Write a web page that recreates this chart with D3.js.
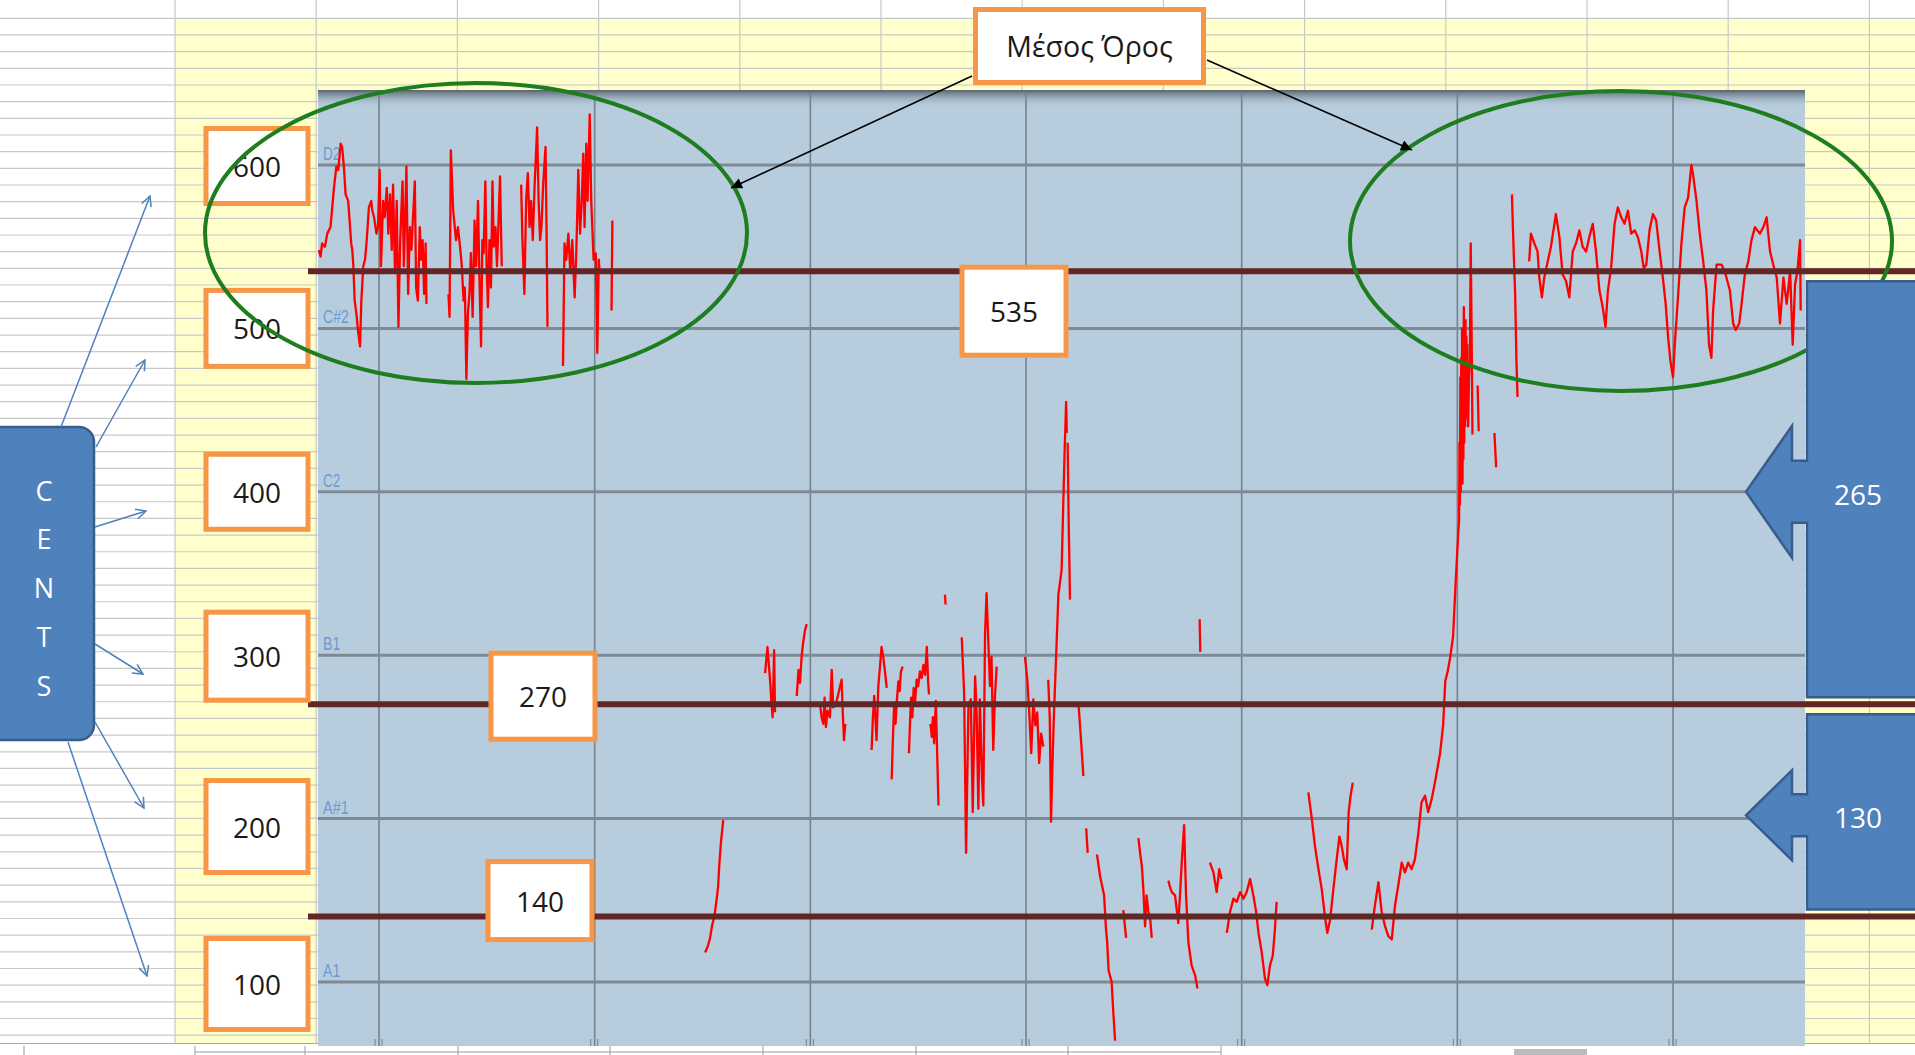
<!DOCTYPE html>
<html><head><meta charset="utf-8">
<script src="https://cdn.jsdelivr.net/npm/d3@7/dist/d3.min.js"></script>
<style>html,body{margin:0;padding:0;background:#fff;overflow:hidden}</style>
</head><body><svg id="c" width="1915" height="1055"></svg>
<script>
// ---------------- DATA ----------------
const noteNames = ["A1","A#1","B1","C2","C#2","D2"];
const noteCents = [100,200,300,400,500,600];
const timeTicks = [1,2,3,4,5,6,7];
const meanValues = [535,270,140];
const meanDiffs = [265,130];
const centsLabels = [100,200,300,400,500,600];
const axisTitle = "CENTS";
const meanTitle = "Μέσος Όρος";

// pitch contour segments: [time, cents]
const seg01 = [[0.721,548],[0.729,544],[0.736,552],[0.749,550],[0.760,558],[0.775,562],[0.791,586],[0.802,599],[0.811,597],[0.822,613],[0.829,611],[0.837,599],[0.845,582],[0.857,578],[0.871,552],[0.876,548],[0.881,538],[0.887,517],[0.895,509],[0.904,497],[0.912,489],[0.918,517],[0.927,538],[0.935,542],[0.943,554],[0.953,574],[0.964,578],[0.969,572],[0.977,568],[0.988,558],[0.995,562],[1.003,597],[1.009,538],[1.019,578],[1.026,568],[1.036,586],[1.043,558],[1.051,582],[1.059,548],[1.065,588],[1.074,534],[1.082,578],[1.090,501],[1.098,554],[1.109,590],[1.115,538],[1.127,599],[1.135,521],[1.143,562],[1.150,548],[1.166,590],[1.172,525],[1.180,517],[1.189,562],[1.195,542],[1.202,554],[1.209,521],[1.216,552],[1.220,515]];
const seg02 = [[1.322,521],[1.327,507],[1.333,609],[1.344,572],[1.357,554],[1.366,562],[1.377,548],[1.384,538],[1.392,517],[1.398,525],[1.405,469],[1.412,509],[1.419,521],[1.426,546],[1.434,507],[1.443,566],[1.450,538],[1.459,578],[1.465,534],[1.473,489],[1.479,554],[1.485,546],[1.493,590],[1.499,538],[1.505,513],[1.512,554],[1.519,525],[1.526,590],[1.532,550],[1.540,562],[1.547,538],[1.561,593],[1.569,538]];
const seg03 = [[1.659,588],[1.665,554],[1.674,521],[1.682,578],[1.690,595],[1.698,562],[1.705,578],[1.713,554],[1.721,586],[1.733,623],[1.740,578],[1.747,554],[1.753,562],[1.761,588],[1.772,611],[1.777,558],[1.781,501]];
const seg04 = [[1.853,477],[1.860,552],[1.868,542],[1.878,558],[1.887,534],[1.896,554],[1.907,519],[1.915,548],[1.924,597],[1.932,558],[1.940,578],[1.947,607],[1.953,562],[1.961,613],[1.967,578],[1.977,631],[1.984,578],[1.995,542],[2.005,546],[2.012,485],[2.019,542],[2.023,534]];
const seg05 = [[2.078,511],[2.082,566]];
const seg06 = [[2.512,118],[2.525,122],[2.535,127],[2.545,135],[2.555,140],[2.565,150],[2.572,158],[2.578,172],[2.585,185],[2.596,199]];
const seg07 = [[2.790,289],[2.801,305],[2.807,295],[2.813,285],[2.819,272],[2.825,262],[2.832,303],[2.836,265]];
const seg08 = [[2.937,275],[2.945,291],[2.952,283],[2.960,300],[2.968,309],[2.975,315],[2.983,319]];
const seg09 = [[3.045,270],[3.052,262],[3.060,258],[3.066,274],[3.072,256],[3.080,266],[3.091,262],[3.099,291],[3.106,268],[3.122,272],[3.145,285],[3.150,266],[3.156,248],[3.162,258]];
const seg10 = [[3.284,242],[3.290,262],[3.296,275],[3.300,265],[3.307,248],[3.315,281],[3.323,293],[3.330,305],[3.338,299],[3.346,290],[3.354,280]];
const seg11 = [[3.377,224],[3.383,250],[3.388,268],[3.395,258],[3.401,272],[3.408,284],[3.414,278],[3.420,290],[3.428,293]];
const seg12 = [[3.457,240],[3.462,258],[3.467,274],[3.473,262],[3.479,280],[3.486,272],[3.493,285],[3.500,281],[3.508,290],[3.516,286],[3.524,294],[3.532,288],[3.540,305],[3.546,284],[3.550,276]];
const seg13 = [[3.557,258],[3.563,250],[3.568,262],[3.574,246],[3.582,272],[3.588,240],[3.594,208]];
const seg14 = [[3.624,337],[3.627,331]];
const seg15 = [[3.702,311],[3.713,277],[3.722,179],[3.733,269],[3.744,273],[3.753,204],[3.764,287],[3.771,265],[3.779,206],[3.786,273],[3.796,224],[3.802,208],[3.810,313],[3.817,338],[3.825,309],[3.833,281],[3.840,299],[3.848,242],[3.856,275],[3.864,293]];
const seg16 = [[3.995,299],[4.006,285],[4.015,265],[4.024,240],[4.034,273],[4.043,257],[4.052,265],[4.061,234],[4.070,252],[4.080,244]];
const seg17 = [[4.103,285],[4.110,262],[4.116,198],[4.122,230],[4.128,258],[4.140,301],[4.150,337],[4.165,352],[4.178,420],[4.186,455],[4.189,436]];
const seg18 = [[4.193,430],[4.198,380],[4.204,334]];
const seg19 = [[4.243,271],[4.255,248],[4.266,226]];
const seg20 = [[4.279,194],[4.286,179]];
const seg21 = [[4.329,178],[4.343,165],[4.362,153],[4.371,132],[4.376,125],[4.383,107],[4.397,100],[4.404,83],[4.413,64]];
const seg22 = [[4.451,144],[4.458,135],[4.464,127]];
const seg23 = [[4.521,188],[4.530,178],[4.537,171],[4.544,157],[4.552,134],[4.559,153],[4.567,143],[4.575,140],[4.583,127]];
const seg24 = [[4.660,162],[4.668,158],[4.676,155],[4.691,153],[4.706,136],[4.714,153],[4.722,173],[4.733,196],[4.742,153],[4.753,124],[4.768,110],[4.784,104],[4.795,96]];
const seg25 = [[4.805,322],[4.808,302]];
const seg26 = [[4.853,173],[4.861,170],[4.869,167],[4.884,155],[4.896,169],[4.907,163]];
const seg27 = [[4.931,130],[4.946,143],[4.962,151],[4.977,149],[4.993,155],[5.008,151],[5.023,155],[5.039,163],[5.054,153],[5.067,143],[5.078,130],[5.093,118],[5.108,102],[5.119,98],[5.131,110],[5.144,116],[5.154,132],[5.162,149]];
const seg28 = [[5.309,216],[5.325,200],[5.340,183],[5.356,169],[5.371,157],[5.386,140],[5.397,130],[5.410,138],[5.422,153],[5.437,171],[5.453,189],[5.464,183],[5.474,175],[5.487,169],[5.496,204],[5.505,214],[5.515,222]];
const seg29 = [[5.603,132],[5.618,147],[5.634,161],[5.649,143],[5.665,134],[5.680,128],[5.696,126],[5.711,147],[5.726,159],[5.742,173],[5.757,167],[5.772,173],[5.788,169],[5.803,175],[5.819,191],[5.834,210],[5.850,214],[5.865,204],[5.881,212],[5.896,222],[5.920,240],[5.934,257],[5.944,284],[5.955,290],[5.966,298],[5.980,311],[5.992,344],[6.005,377],[6.008,382],[6.010,430],[6.012,392],[6.014,470],[6.016,400],[6.018,482],[6.020,410],[6.022,500],[6.024,405],[6.026,490],[6.028,420],[6.030,513],[6.032,430],[6.034,500],[6.036,440],[6.038,505],[6.040,445],[6.042,495],[6.044,455],[6.046,490],[6.048,450],[6.050,440],[6.054,470],[6.058,480],[6.062,552],[6.066,500],[6.070,435]];
const seg30 = [[6.094,465],[6.099,437]];
const seg31 = [[6.172,436],[6.180,415]];
const seg32 = [[6.253,582],[6.258,560],[6.263,540],[6.268,521],[6.274,480],[6.279,458]];
const seg33 = [[6.333,541],[6.341,558],[6.357,552],[6.372,547],[6.380,531],[6.392,519],[6.403,531],[6.419,541],[6.434,550],[6.457,570],[6.473,556],[6.488,533],[6.504,529],[6.519,519],[6.535,547],[6.550,552],[6.566,560],[6.581,550],[6.597,547],[6.612,556],[6.628,564],[6.643,547],[6.659,523],[6.674,513],[6.687,501],[6.698,523],[6.713,537],[6.729,564],[6.744,574],[6.760,568],[6.775,564],[6.791,572],[6.806,558],[6.822,560],[6.837,556],[6.853,547],[6.864,537],[6.876,539],[6.891,560],[6.907,570],[6.922,566],[6.938,547],[6.953,531],[6.966,515],[6.977,495],[6.988,480],[7.000,470],[7.008,490],[7.023,519],[7.039,552],[7.054,574],[7.070,580],[7.085,600],[7.093,594],[7.109,578],[7.124,558],[7.140,541],[7.155,523],[7.167,490],[7.178,482],[7.186,511],[7.202,539],[7.225,539],[7.240,535],[7.264,523],[7.279,503],[7.291,499],[7.307,503],[7.318,515],[7.333,533],[7.349,541],[7.364,554],[7.380,562],[7.403,558],[7.419,562],[7.434,568],[7.450,547],[7.465,539],[7.481,531],[7.496,503],[7.512,531],[7.527,515],[7.543,535],[7.555,490],[7.566,527],[7.577,535],[7.589,554],[7.592,511]];
const pitchSegments = [seg01,seg02,seg03,seg04,seg05,seg06,seg07,seg08,seg09,seg10,seg11,seg12,seg13,seg14,seg15,seg16,seg17,seg18,seg19,seg20,seg21,seg22,seg23,seg24,seg25,seg26,seg27,seg28,seg29,seg30,seg31,seg32,seg33];

// ---------------- LAYOUT ----------------
const W = 1915, H = 1055;
const plot = {x0:318, x1:1805, y0:90, y1:1046};
const svg = d3.select("#c");
const x = d3.scaleLinear().domain([0.717, 7.612]).range([plot.x0, plot.x1]);
const y = d3.scaleLinear().domain([60.8, 645.9]).range([plot.y1, plot.y0]);
const FONT = "'Open Sans', 'Noto Sans', sans-serif";
const ORANGE = "#F79646", BLUE = "#4F81BD", BLUE_D = "#385D8A";

const defs = svg.append("defs");
const g1 = defs.append("linearGradient").attr("id","topShade").attr("x1",0).attr("y1",0).attr("x2",0).attr("y2",1);
g1.append("stop").attr("offset","0%").attr("stop-color","#56626c");
g1.append("stop").attr("offset","100%").attr("stop-color","#b7cddd").attr("stop-opacity",0);
defs.append("clipPath").attr("id","plotClip").append("rect")
  .attr("x",plot.x0).attr("y",plot.y0).attr("width",plot.x1-plot.x0).attr("height",plot.y1-plot.y0);
defs.append("marker").attr("id","arrBlack").attr("viewBox","0 0 10 10").attr("refX",10).attr("refY",5)
  .attr("markerWidth",15).attr("markerHeight",11).attr("markerUnits","userSpaceOnUse").attr("orient","auto")
  .append("path").attr("d","M0,0 L10,5 L0,10 Z").attr("fill","#000");
defs.append("marker").attr("id","arrBlue").attr("viewBox","0 0 12 12").attr("refX",11).attr("refY",6)
  .attr("markerWidth",12).attr("markerHeight",12).attr("markerUnits","userSpaceOnUse").attr("orient","auto")
  .append("path").attr("d","M1,1 L11,6 L1,11").attr("fill","none").attr("stroke",BLUE).attr("stroke-width",1.5);

// ---- spreadsheet background ----
svg.append("rect").attr("width",W).attr("height",H).attr("fill","#fff");
svg.append("rect").attr("x",175).attr("y",18).attr("width",W-175).attr("height",1025).attr("fill","#FFFFCC");
const rowYs = d3.range(18.3, 1043, 16.67);
svg.append("g").selectAll("line").data(rowYs).join("line")
  .attr("x1",0).attr("x2",W).attr("y1",d=>d).attr("y2",d=>d)
  .attr("stroke","#c8c8c8").attr("stroke-width",1.2);
const colXs = d3.range(175, W, 141.2);
svg.append("g").selectAll("line").data(colXs).join("line")
  .attr("x1",d=>d).attr("x2",d=>d).attr("y1",0).attr("y2",1043)
  .attr("stroke","#c8c8c8").attr("stroke-width",1.2);
// sheet tab bar
svg.append("rect").attr("x",0).attr("y",1043).attr("width",W).attr("height",12).attr("fill","#fff");
svg.append("line").attr("x1",0).attr("x2",W).attr("y1",1043.5).attr("y2",1043.5).attr("stroke","#a8a8a8");
svg.append("line").attr("x1",195).attr("x2",1221).attr("y1",1052).attr("y2",1052).attr("stroke","#999");
svg.append("g").selectAll("line").data([24,195,305,458,610,763,916,1068,1221]).join("line")
  .attr("x1",d=>d).attr("x2",d=>d).attr("y1",1046).attr("y2",1055).attr("stroke","#999");
svg.append("rect").attr("x",1514).attr("y",1049).attr("width",73).attr("height",6).attr("fill","#bbb");

// ---- plot area ----
svg.append("rect").attr("x",plot.x0).attr("y",plot.y0).attr("width",plot.x1-plot.x0).attr("height",plot.y1-plot.y0)
  .attr("fill","#B7CDDD");
svg.append("rect").attr("x",plot.x0).attr("y",plot.y0).attr("width",plot.x1-plot.x0).attr("height",18)
  .attr("fill","url(#topShade)");
svg.append("g").selectAll("line").data(timeTicks).join("line")
  .attr("x1",d=>x(d)).attr("x2",d=>x(d)).attr("y1",plot.y0+4).attr("y2",plot.y1)
  .attr("stroke","#76828d").attr("stroke-width",1.6);
svg.append("g").selectAll("path").data(timeTicks).join("path")
  .attr("d",d=>`M${x(d)-4},${plot.y1-7}v7M${x(d)+3},${plot.y1-7}v7`)
  .attr("stroke","#76828d").attr("stroke-width",1);
svg.append("g").selectAll("line").data(noteCents).join("line")
  .attr("x1",plot.x0).attr("x2",plot.x1).attr("y1",d=>y(d)).attr("y2",d=>y(d))
  .attr("stroke","#7f8a95").attr("stroke-width",3);
svg.append("g").selectAll("text").data(noteNames).join("text")
  .attr("x",plot.x0+5).attr("y",(d,i)=>y(noteCents[i])-5)
  .attr("font-family","'Liberation Sans', sans-serif").attr("font-size",19)
  .attr("textLength",d=>d.length*8.6).attr("lengthAdjust","spacingAndGlyphs")
  .attr("fill","#5b8fd0").attr("fill-opacity",0.85).text(d=>d);

// ---- pitch contour ----
const line = d3.line().x(d=>x(d[0])).y(d=>y(d[1]));
svg.append("g").attr("clip-path","url(#plotClip)").selectAll("path").data(pitchSegments).join("path")
  .attr("d",line).attr("fill","none").attr("stroke","#ff0000").attr("stroke-width",2.3)
  .attr("stroke-linejoin","round");

// ---- mean lines ----
svg.append("g").selectAll("line").data(meanValues).join("line")
  .attr("x1",plot.x0-10).attr("x2",W).attr("y1",d=>y(d)).attr("y2",d=>y(d))
  .attr("stroke","#642525").attr("stroke-width",6);

// ---- labelled boxes ----
function box(cx, cy, w, h, label, size){
  const g = svg.append("g");
  g.append("rect").attr("x",cx-w/2).attr("y",cy-h/2).attr("width",w).attr("height",h)
    .attr("fill","#fff").attr("stroke",ORANGE).attr("stroke-width",5);
  g.append("text").attr("x",cx).attr("y",cy).attr("text-anchor","middle").attr("dominant-baseline","central")
    .attr("font-family",FONT).attr("font-size",size||28).attr("fill","#1a1a1a").text(label);
}
const centsBoxOffset = {100:2, 200:8, 300:1, 400:0, 500:0, 600:1};
const centsBoxH = {100:91, 200:92, 300:88, 400:75, 500:76, 600:75};
centsLabels.forEach(v => box(257, y(v)+centsBoxOffset[v], 102, centsBoxH[v], String(v)));
const meanBoxOffset = {535:40, 270:-8, 140:-16};
const meanBoxX = {535:1014, 270:543, 140:540};
const meanBoxH = {535:88, 270:86, 140:78};
meanValues.forEach(v => box(meanBoxX[v], y(v)+meanBoxOffset[v], 104, meanBoxH[v], String(v)));

// ---- ellipses ----
svg.append("g").selectAll("ellipse").data([[476,233],[1621,241]]).join("ellipse")
  .attr("cx",d=>d[0]).attr("cy",d=>d[1]).attr("rx",271).attr("ry",150)
  .attr("fill","none").attr("stroke","#1e7d1e").attr("stroke-width",4);

// ---- "Μέσος Όρος" callout ----
svg.append("line").attr("x1",972).attr("y1",76).attr("x2",731).attr("y2",188)
  .attr("stroke","#000").attr("stroke-width",1.6).attr("marker-end","url(#arrBlack)");
svg.append("line").attr("x1",1207).attr("y1",60).attr("x2",1412).attr("y2",150)
  .attr("stroke","#000").attr("stroke-width",1.6).attr("marker-end","url(#arrBlack)");
box(1089.5, 46, 228, 73, meanTitle, 28.5);

// ---- CENTS tag ----
svg.append("rect").attr("x",-20).attr("y",427).attr("width",114).attr("height",313).attr("rx",15)
  .attr("fill",BLUE).attr("stroke",BLUE_D).attr("stroke-width",2.5);
svg.append("g").selectAll("text").data(axisTitle.split("")).join("text")
  .attr("x",44).attr("y",(d,i)=>490+i*48.8).attr("text-anchor","middle").attr("dominant-baseline","central")
  .attr("font-family",FONT).attr("font-size",27).attr("fill","#fff").text(d=>d);
const centsArrows = [[61,427,150,196],[96,447,145,360],[95,527,146,511],[95,644,143,674],[95,722,144,808],[68,742,147,976]];
svg.append("g").selectAll("line").data(centsArrows).join("line")
  .attr("x1",d=>d[0]).attr("y1",d=>d[1]).attr("x2",d=>d[2]).attr("y2",d=>d[3])
  .attr("stroke",BLUE).attr("stroke-width",1.5).attr("marker-end","url(#arrBlue)");

// ---- difference callouts (left arrows) ----
function leftCallout(top, bottom, tipY, label, headHalf, shaftHalf){
  const xr = 1807, xb = 1792, tip = 1746, xe = W+10;
  const d = `M${xe},${top} L${xr},${top} L${xr},${tipY-shaftHalf} L${xb},${tipY-shaftHalf} L${xb},${tipY-headHalf} L${tip},${tipY} L${xb},${tipY+headHalf} L${xb},${tipY+shaftHalf} L${xr},${tipY+shaftHalf} L${xr},${bottom} L${xe},${bottom} Z`;
  svg.append("path").attr("d",d).attr("fill",BLUE).attr("stroke",BLUE_D).attr("stroke-width",2.5);
  svg.append("text").attr("x",1858).attr("y",tipY+2).attr("text-anchor","middle").attr("dominant-baseline","central")
    .attr("font-family",FONT).attr("font-size",28).attr("fill","#fff").text(label);
}
leftCallout(y(meanValues[0])+10, y(meanValues[1])-7, y(400), String(meanDiffs[0]), 66, 31);
leftCallout(y(meanValues[1])+10, y(meanValues[2])-7, y(202), String(meanDiffs[1]), 45, 21);
</script></body></html>
